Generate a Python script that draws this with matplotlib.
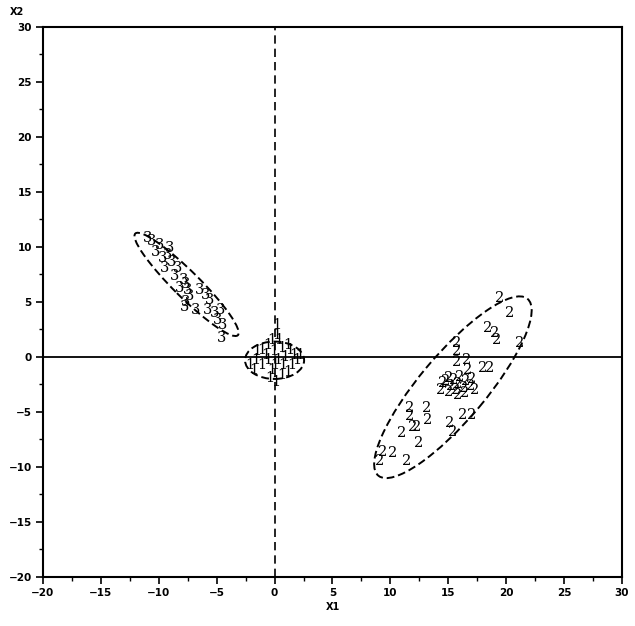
import matplotlib.pyplot as plt
from matplotlib.patches import Ellipse

# --- Data ---
g1_x = [-1.1, -0.6, -0.2, 0.2, 0.2, 0.6, 1.1, 1.7, 2.2, -2.1, -1.6, -1.1, -0.6, -0.2, 0.3,
        0.7, 1.1, 1.5, 1.9, -0.4, 0.1, 0.6, -1.5, -0.8, -0.1, 0.9, 1.3, -1.8, 0.4, 0.0]
g1_y = [0.6, 1.1, 1.5, 2.0, 2.9, 0.8, 1.1, 0.2, 0.2, -0.7, -0.3, -0.7, -0.3, -1.2, -0.3,
        -0.7, -1.4, -0.7, -0.3, -1.9, -2.3, -1.6, 0.5, 0.2, 0.5, 0.0, 0.6, -1.2, 1.5, -0.7]

g2_x = [19.45, 20.3, 18.4, 19.0, 19.2, 21.2, 15.7, 15.7, 15.7, 16.6, 18.0, 18.6, 16.7,
        15.0, 15.5, 16.0, 16.5, 17.0, 14.5, 15.2, 15.8, 16.3, 16.9, 14.3, 15.0, 15.6, 16.4,
        17.3, 14.8, 15.8, 11.7, 13.1, 13.2, 11.7, 11.0, 11.9, 12.3, 12.4, 15.1, 15.4, 16.2,
        17.0, 9.3, 10.2, 11.4, 9.1]
g2_y = [5.36, 4.0, 2.6, 2.2, 1.5, 1.3, 1.3, 0.5, -0.5, -0.3, -1.0, -1.0, -1.2,
        -1.9, -2.1, -1.8, -2.2, -2.0, -2.4, -2.6, -2.5, -2.8, -2.6, -3.0, -3.2, -3.0, -3.3,
        -3.0, -2.2, -3.5, -4.6, -4.6, -5.7, -5.4, -6.9, -6.4, -6.4, -7.8, -6.0, -6.8, -5.3,
        -5.3, -8.6, -8.7, -9.5, -9.5]

g3_x = [-11.0, -9.9, -9.05, -10.3, -9.7, -8.9, -8.4, -9.5, -8.6, -7.7, -7.5, -7.3, -7.7,
        -7.8, -6.5, -6.0, -5.6, -5.8, -5.2, -4.7, -4.9, -4.5, -4.6, -6.8, -8.2, -9.2, -10.6, -7.9]
g3_y = [10.8, 10.2, 9.9, 9.5, 9.0, 8.6, 8.1, 8.1, 7.4, 6.6, 6.1, 5.5, 5.0,
        4.5, 6.1, 5.6, 5.2, 4.3, 4.0, 4.3, 3.4, 2.9, 1.7, 4.3, 6.3, 9.3, 10.5, 7.0]

# ellipses: centre x, centre y, semi-major, semi-minor, angle (deg)
ell_cx = [0.0, 15.4, -7.6]
ell_cy = [-0.3, -2.75, 6.6]
ell_a = [2.55, 10.3, 6.4]
ell_b = [1.7, 2.9, 1.15]
ell_ang = [0.0, 51.5, -46.3]

groups = [('1', g1_x, g1_y), ('2', g2_x, g2_y), ('3', g3_x, g3_y)]

# --- Plotting ---
fig = plt.figure(figsize=(6.35, 6.26), dpi=100)
ax = fig.add_axes([0.0677, 0.0783, 0.9118, 0.8786])

for lab, xs, ys in groups:
    for x, y in zip(xs, ys):
        ax.text(x, y, lab, fontsize=10.5, family='DejaVu Serif',
                ha='center', va='center', color='black')

for cx, cy, a, b, ang in zip(ell_cx, ell_cy, ell_a, ell_b, ell_ang):
    ax.add_patch(Ellipse((cx, cy), 2 * a, 2 * b, angle=ang, fill=False,
                         ls=(0, (4, 2)), lw=1.4, color='black'))

ax.axhline(0, color='black', lw=1.3)
ax.axvline(0, color='black', lw=1.2, ls=(0, (5, 3)))

ax.set_xlim(-20, 30)
ax.set_ylim(-20, 30)
ticks = list(range(-20, 31, 5))
ax.set_xticks(ticks)
ax.set_yticks(ticks)
ax.set_xticks([t + 2.5 for t in ticks[:-1]], minor=True)
ax.set_yticks([t + 2.5 for t in ticks[:-1]], minor=True)
ax.tick_params(which='major', direction='out', length=5, width=1.2, labelsize=7.5, pad=3)
ax.tick_params(which='minor', direction='out', length=3, width=1)
for lbl in ax.get_xticklabels() + ax.get_yticklabels():
    lbl.set_fontweight('bold')
for s in ax.spines.values():
    s.set_linewidth(1.5)

ax.set_xlabel('X1', fontsize=7, fontweight='bold', labelpad=3)
fig.text(0.026, 0.981, 'X2', fontsize=7, fontweight='bold', ha='center', va='center')

plt.savefig('out.png', dpi=100)
